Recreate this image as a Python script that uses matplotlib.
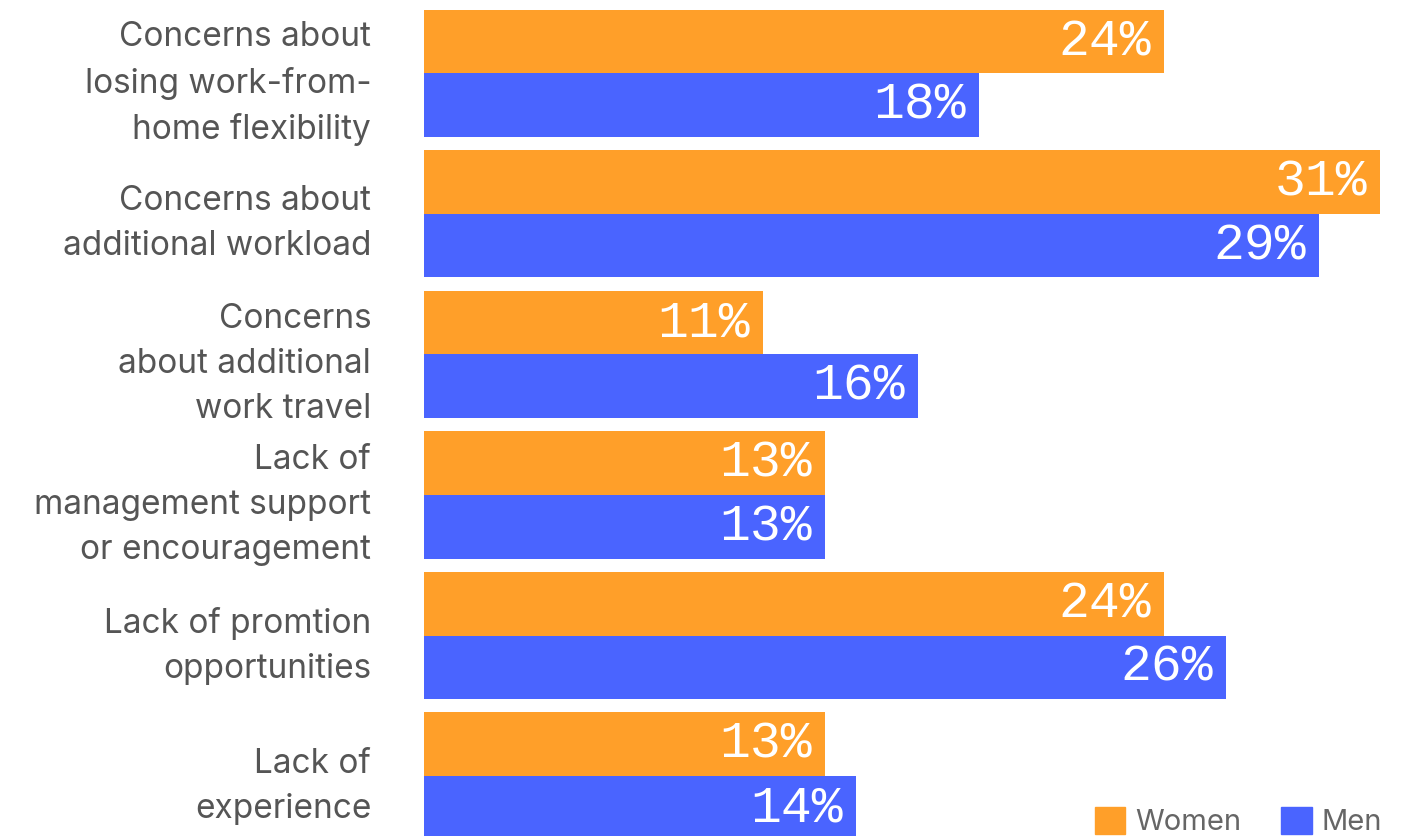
import matplotlib.pyplot as plt
from matplotlib.patches import Patch

# Reasons for not applying for a promotion, by gender (% of respondents)
reasons = [
    "Concerns about\nlosing work-from-\nhome flexibility",
    "Concerns about\nadditional workload",
    "Concerns\nabout additional\nwork travel",
    "Lack of\nmanagement support\nor encouragement",
    "Lack of promtion\nopportunities",
    "Lack of\nexperience",
]
women = [24, 31, 11, 13, 24, 13]
men = [18, 29, 16, 13, 26, 14]

ORANGE = "#FF9F29"
BLUE = "#4A64FF"
GREY = "#555555"

fig = plt.figure(figsize=(14.12, 8.36), dpi=100)
ax = fig.add_axes([424 / 1412, 0, 1 - 424 / 1412, 1])

bar_h = 0.452
ypos = list(range(len(reasons)))
ax.barh([y - bar_h / 2 for y in ypos], women, height=bar_h, color=ORANGE, label="Women")
ax.barh([y + bar_h / 2 for y in ypos], men, height=bar_h, color=BLUE, label="Men")

# Value labels sit inside the right end of each bar
for y, w, m in zip(ypos, women, men):
    for val, yy in ((w, y - bar_h / 2), (m, y + bar_h / 2)):
        ax.annotate(f"{val}%", (val, yy), xytext=(-13, 0), textcoords="offset pixels",
                    ha="right", va="center", color="white",
                    fontsize=37, family="Liberation Mono")

ax.set_xlim(0, 32.03)
ax.set_ylim(5.427, -0.523)

ax.set_yticks(ypos)
ax.set_yticklabels(reasons, fontsize=24, color=GREY, family="Inter",
                   linespacing=1.52, ha="right")
ax.tick_params(axis="y", length=0, pad=38)
ax.set_xticks([])
for s in ax.spines.values():
    s.set_visible(False)

handles = [Patch(color=ORANGE, label="Women"), Patch(color=BLUE, label="Men")]
fig.legend(handles=handles, loc="lower right", bbox_to_anchor=(1397 / 1412, -0.018),
           ncol=2, frameon=False, borderpad=0, handlelength=1.05,
           handleheight=1.05, handletextpad=0.35, columnspacing=1.35,
           labelcolor="#666666", prop={"family": "Inter", "size": 21})

fig.savefig("out.png", dpi=100)
